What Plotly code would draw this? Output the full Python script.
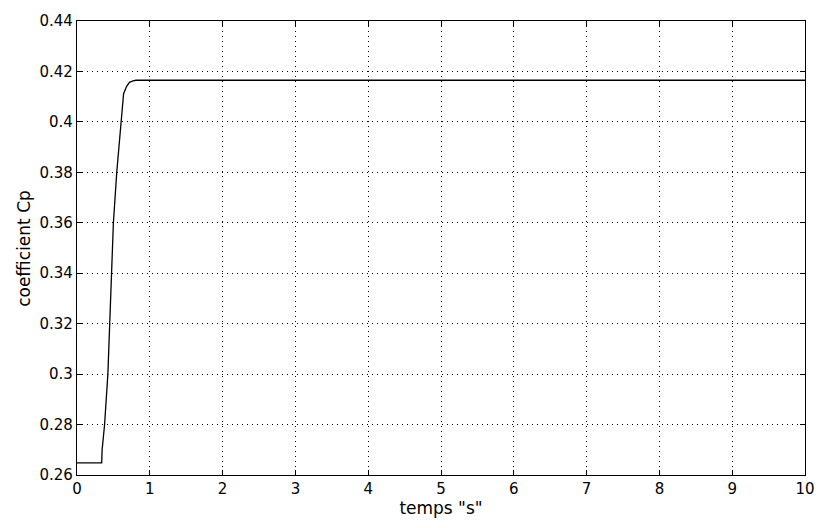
import plotly.graph_objects as go

t = [0, 0.339, 0.345, 0.379, 0.424, 0.447, 0.47, 0.50, 0.546, 0.605, 0.64, 0.68, 0.72, 0.77, 0.81, 10]
cp = [0.2648, 0.2648, 0.27, 0.28, 0.30, 0.32, 0.34, 0.36, 0.38, 0.40, 0.4112, 0.4140, 0.4157, 0.4163, 0.4165, 0.4165]
x_ticks = list(range(0, 11))
y_ticks = [0.26, 0.28, 0.30, 0.32, 0.34, 0.36, 0.38, 0.40, 0.42, 0.44]
y_labels = ["0.26", "0.28", "0.3", "0.32", "0.34", "0.36", "0.38", "0.4", "0.42", "0.44"]

FONT = "DejaVu Sans, Liberation Sans, Arial"

fig = go.Figure()
fig.add_trace(go.Scatter(x=t, y=cp, mode="lines", line=dict(color="black", width=1.3), showlegend=False))

axis_common = dict(
    showline=True, linecolor="black", linewidth=1.3, mirror="ticks",
    ticks="inside", ticklen=5, tickcolor="black", tickwidth=1.3,
    showgrid=True, gridcolor="black", gridwidth=1, griddash="1px,4px",
    zeroline=False, tickfont=dict(family=FONT, size=15, color="black"),
)
fig.update_xaxes(range=[0, 10], tickvals=x_ticks, ticktext=[str(v) for v in x_ticks],
                 title=dict(text='temps "s"', font=dict(family=FONT, size=17, color="black"), standoff=3),
                 **axis_common)
fig.update_yaxes(range=[0.26, 0.44], tickvals=y_ticks, ticktext=y_labels, **axis_common)
fig.add_annotation(text="coefficient Cp", xref="paper", yref="paper", x=-0.073, y=0.5,
                   xanchor="center", yanchor="middle", textangle=-90, showarrow=False,
                   font=dict(family=FONT, size=17, color="black"))
fig.update_layout(
    width=827, height=528,
    margin=dict(l=77, r=12, t=16, b=53),
    paper_bgcolor="white", plot_bgcolor="white",
)
fig.write_html("out.html")
